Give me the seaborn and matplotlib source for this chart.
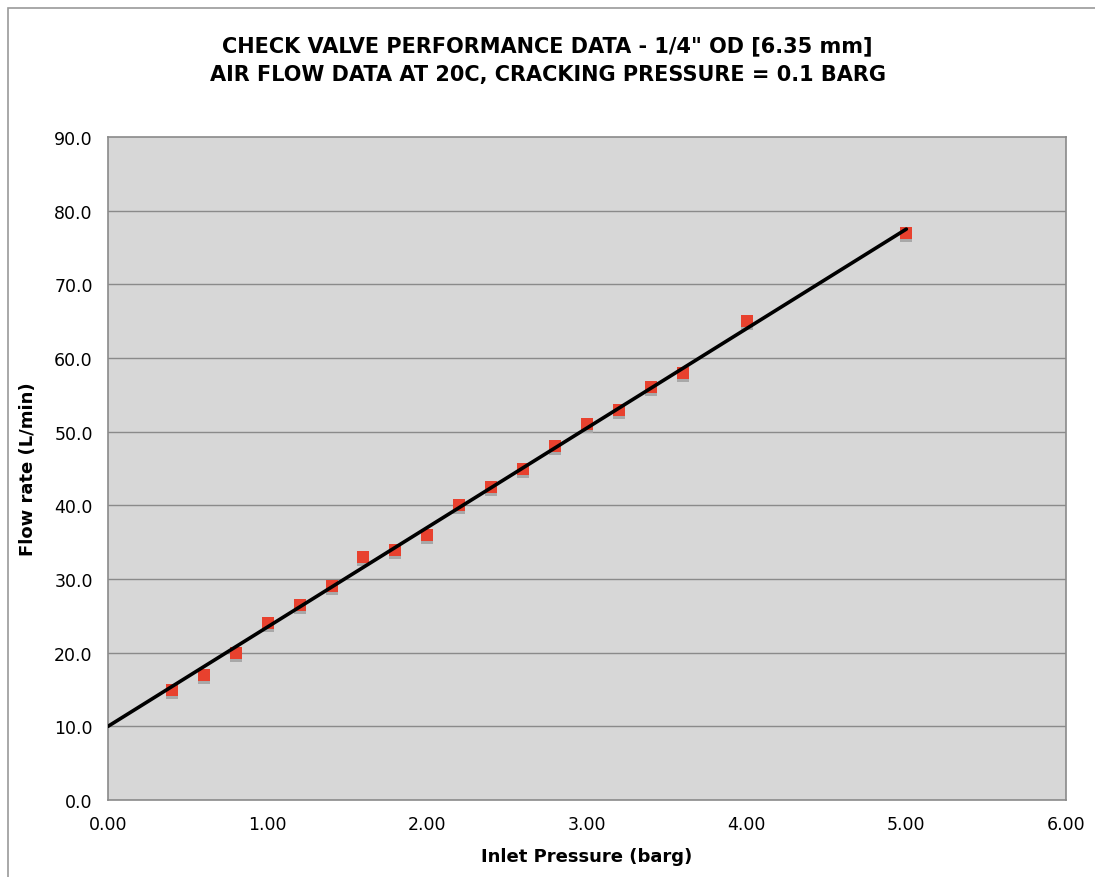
import numpy as np
import matplotlib
matplotlib.use("Agg")
import matplotlib.pyplot as plt
import matplotlib.transforms as mtransforms
from matplotlib.patches import Rectangle
import seaborn as sns

# data
inlet_pressure = [0.4, 0.6, 0.8, 1.0, 1.2, 1.4, 1.6, 1.8, 2.0, 2.2, 2.4, 2.6,
                  2.8, 3.0, 3.2, 3.4, 3.6, 4.0, 5.0]
flow_rate = [15.0, 17.0, 20.0, 24.0, 26.5, 29.0, 33.0, 34.0, 36.0, 40.0, 42.5, 45.0,
             48.0, 51.0, 53.0, 56.0, 58.0, 65.0, 77.0]
trend_x = [0.0, 5.0]
trend_y = [10.0, 77.5]

x_ticks = [0, 1, 2, 3, 4, 5, 6]
y_ticks = [0, 10, 20, 30, 40, 50, 60, 70, 80, 90]

sns.set_style("white")
plt.rcParams['font.family'] = ['DejaVu Sans']
plt.rcParams['text.color'] = 'black'
plt.rcParams['axes.labelcolor'] = 'black'

fig = plt.figure(figsize=(10.95, 8.78), dpi=100)
ax = fig.add_axes([108 / 1095, 77 / 878, 958 / 1095, 663 / 878])
ax.set_facecolor('#d7d7d7')

# outer chart border
fig.patches.append(Rectangle((8 / 1095, -0.01), 1.1, (878 - 8.5) / 878 + 0.01,
                             transform=fig.transFigure, fill=False,
                             edgecolor='#9a9a9a', linewidth=1.2))

for y in y_ticks[1:-1]:
    ax.axhline(y, color='#8a8a8a', linewidth=1.0, zorder=1)

# marker shadow
shadow = mtransforms.offset_copy(ax.transData, fig=fig, x=0, y=-3, units='dots')
ax.scatter(inlet_pressure, flow_rate, marker='s', s=75, color='#a8a8a8',
           linewidths=0, transform=shadow, zorder=2)
sns.scatterplot(x=inlet_pressure, y=flow_rate, marker='s', s=75, color='#e8412e',
                linewidth=0, ax=ax, zorder=3)
sns.lineplot(x=trend_x, y=trend_y, color='black', linewidth=2.6, ax=ax, zorder=4)

ax.set_xlim(0, 6)
ax.set_ylim(0, 90)
ax.set_xticks(x_ticks)
ax.set_yticks(y_ticks)
ax.set_xticklabels([f"{v:.2f}" for v in x_ticks], fontsize=12.5)
ax.set_yticklabels([f"{v:.1f}" for v in y_ticks], fontsize=12.5)
ax.tick_params(axis='both', direction='out', length=5, width=1, color='#8a8a8a',
               pad=6, labelcolor='black')
for s in ax.spines.values():
    s.set_color('#8a8a8a')
    s.set_linewidth(1.2)

ax.set_xlabel('Inlet Pressure (barg)', fontsize=13, fontweight='bold', labelpad=10,
              color='black')
ax.set_ylabel('Flow rate (L/min)', fontsize=13, fontweight='bold', labelpad=12,
              color='black')

fig.text(0.5, 1 - 46 / 878, 'CHECK VALVE PERFORMANCE DATA - 1/4" OD [6.35 mm]',
         ha='center', va='center', fontsize=15, fontweight='bold', color='black')
fig.text(0.5, 1 - 75 / 878, 'AIR FLOW DATA AT 20C, CRACKING PRESSURE = 0.1 BARG',
         ha='center', va='center', fontsize=15, fontweight='bold', color='black')

fig.savefig('out.png', dpi=100)
